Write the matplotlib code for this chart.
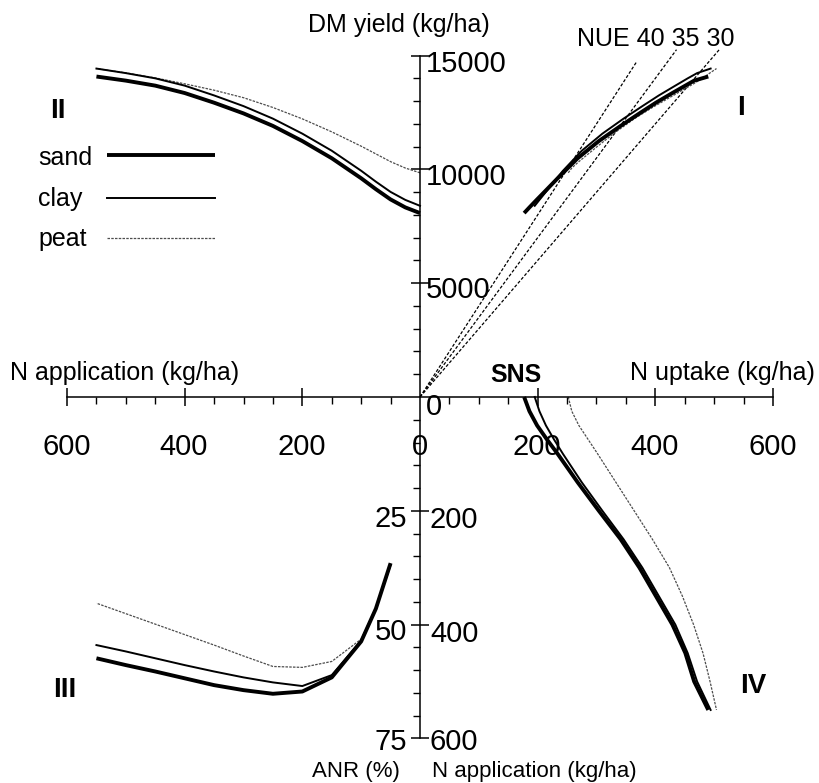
import numpy as np
import matplotlib.pyplot as plt

plt.rcParams['font.family'] = ['Liberation Sans', 'DejaVu Sans']

# N application levels (kg/ha), common to all soils
n_app = np.array([0, 25, 50, 75, 100, 150, 200, 250, 300, 350, 400, 450, 500, 550])

# DM yield (kg/ha)
yield_sand = np.array([8080, 8330, 8680, 9130, 9610, 10490, 11245, 11910, 12460, 12930, 13355, 13680, 13900, 14080])
yield_clay = np.array([8400, 8660, 9010, 9460, 9940, 10820, 11570, 12230, 12780, 13250, 13680, 14000, 14230, 14430])
yield_peat = np.array([9850, 10060, 10340, 10680, 11020, 11650, 12220, 12720, 13150, 13480, 13760, 14020, 14240, 14430])

# N uptake (kg/ha)
uptake_sand = np.array([177, 186, 199, 216, 234, 268, 304, 341, 373, 401, 429, 451, 466, 490])
uptake_clay = np.array([195, 203, 214, 228, 243, 275, 310, 346, 378, 406, 434, 455, 471, 494])
uptake_peat = np.array([252, 258, 270, 286, 302, 333, 364, 395, 424, 446, 465, 481, 493, 504])

# apparent N recovery (%), not defined at low N rates
nan = np.nan
anr_sand = np.array([nan, nan, 36.5, 46.5, 53.7, 61.6, 64.7, 65.2, 64.4, 63.3, 61.8, 60.3, 58.9, 57.4])
anr_clay = np.array([nan, nan, 36.9, 46.4, 53.5, 61.1, 63.5, 62.7, 61.6, 60.3, 58.9, 57.4, 55.9, 54.5])
anr_peat = np.array([nan, nan, 36.9, 46.4, 53.2, 58.1, 59.4, 59.2, 56.9, 54.5, 52.2, 49.9, 47.6, 45.3])

# NUE reference lines (kg DM per kg N) and their end point on the uptake axis
nue_levels = [40, 35, 30]
nue_uptake_end = [369, 436, 510]

soils = ['sand', 'clay', 'peat']
styles = {
    'sand': dict(color='black', lw=2.8, solid_capstyle='butt'),
    'clay': dict(color='black', lw=1.4),
    'peat': dict(color='0.3', lw=0.9, linestyle=(0, (2, 1))),
}
yields = {'sand': yield_sand, 'clay': yield_clay, 'peat': yield_peat}
uptakes = {'sand': uptake_sand, 'clay': uptake_clay, 'peat': uptake_peat}
anrs = {'sand': anr_sand, 'clay': anr_clay, 'peat': anr_peat}

# every quadrant is mapped on one axis: 600 kg N <-> 15000 kg DM <-> 75 % ANR
YS = 600 / 15000
AS = 600 / 75

fig = plt.figure(figsize=(8.2, 7.83), dpi=100)
ax = fig.add_axes([0, 0, 1, 1])
ax.set_xlim(-713.9, 679.9)
ax.set_ylim(-678.4, 697.7)
ax.patch.set_alpha(0)

for s in ['top', 'right']:
    ax.spines[s].set_visible(False)
ax.spines['left'].set_position(('data', 0))
ax.spines['bottom'].set_position(('data', 0))
ax.spines['left'].set_bounds(-600, 600)
ax.spines['bottom'].set_bounds(-600, 600)
ax.spines['left'].set_linewidth(1.1)
ax.spines['bottom'].set_linewidth(1.1)

ax.set_xticks([-600, -400, -200, 200, 400, 600])
ax.set_xticks([v for v in range(-600, 601, 50) if v % 200 != 0], minor=True)
ax.set_yticks([-600, -400, -200, 200, 400, 600])
ax.set_yticks([v for v in range(-600, 601, 40) if v % 200 != 0], minor=True)
ax.tick_params(which='major', direction='inout', length=13, width=1.1)
ax.tick_params(which='minor', direction='out', length=5, width=1.0)
ax.tick_params(labelbottom=False, labelleft=False)

# NUE lines in quadrant I
for nue, u_end in zip(nue_levels, nue_uptake_end):
    u = np.array([0, u_end])
    ax.plot(u, nue * u * YS, color='black', lw=0.9, linestyle=(0, (2.5, 1.5)))

for soil in ['peat', 'clay', 'sand']:
    st = styles[soil]
    y, u, r = yields[soil], uptakes[soil], anrs[soil]
    ax.plot(u, y * YS, **st)          # I   yield vs uptake
    ax.plot(-n_app, y * YS, **st)     # II  yield vs N application
    ax.plot(-n_app, -r * AS, **st)    # III ANR vs N application
    ax.plot(u, -n_app, **st)          # IV  N application vs uptake

# text layer in pixel coordinates
tx = fig.add_axes([0, 0, 1, 1])
tx.set_xlim(0, 820)
tx.set_ylim(783, 0)
tx.axis('off')
tx.patch.set_alpha(0)

big = 21
lab = 18

for v, x in zip(['600', '400', '200', '0', '200', '400', '600'],
                [67, 184, 302, 420, 537, 655, 773]):
    tx.text(x, 455, v, fontsize=big, ha='center', va='baseline')
for v, y in zip(['15000', '10000', '5000', '0'], [72, 185, 298, 415]):
    tx.text(426, y, v, fontsize=big, ha='left', va='baseline')
for v, y in zip(['200', '400', '600'], [528, 642, 750]):
    tx.text(430, y, v, fontsize=big, ha='left', va='baseline')
for v, y in zip(['25', '50', '75'], [527, 640, 750]):
    tx.text(407, y, v, fontsize=big, ha='right', va='baseline')

tx.text(308, 32, 'DM yield (kg/ha)', fontsize=lab, va='baseline')
tx.text(577, 46, 'NUE 40 35 30', fontsize=lab, va='baseline')
tx.text(10, 380, 'N application (kg/ha)', fontsize=lab, va='baseline')
tx.text(490, 382, 'SNS', fontsize=lab, fontweight='bold', va='baseline')
tx.text(630, 380, 'N uptake (kg/ha)', fontsize=lab, va='baseline')
tx.text(312, 777, 'ANR (%)', fontsize=16, va='baseline')
tx.text(432, 777, 'N application (kg/ha)', fontsize=16, va='baseline')

for t, x, y in [('II', 50, 118), ('I', 737, 115), ('III', 53, 697), ('IV', 740, 693)]:
    tx.text(x, y, t, fontsize=20, fontweight='bold', va='baseline')

# legend
for soil, yb, yl in zip(soils, [165, 206, 246], [155, 198, 238]):
    tx.text(38, yb, soil, fontsize=lab, va='baseline')
    tx.plot([107, 215], [yl, yl], **styles[soil])

fig.savefig('out.png', dpi=100)
